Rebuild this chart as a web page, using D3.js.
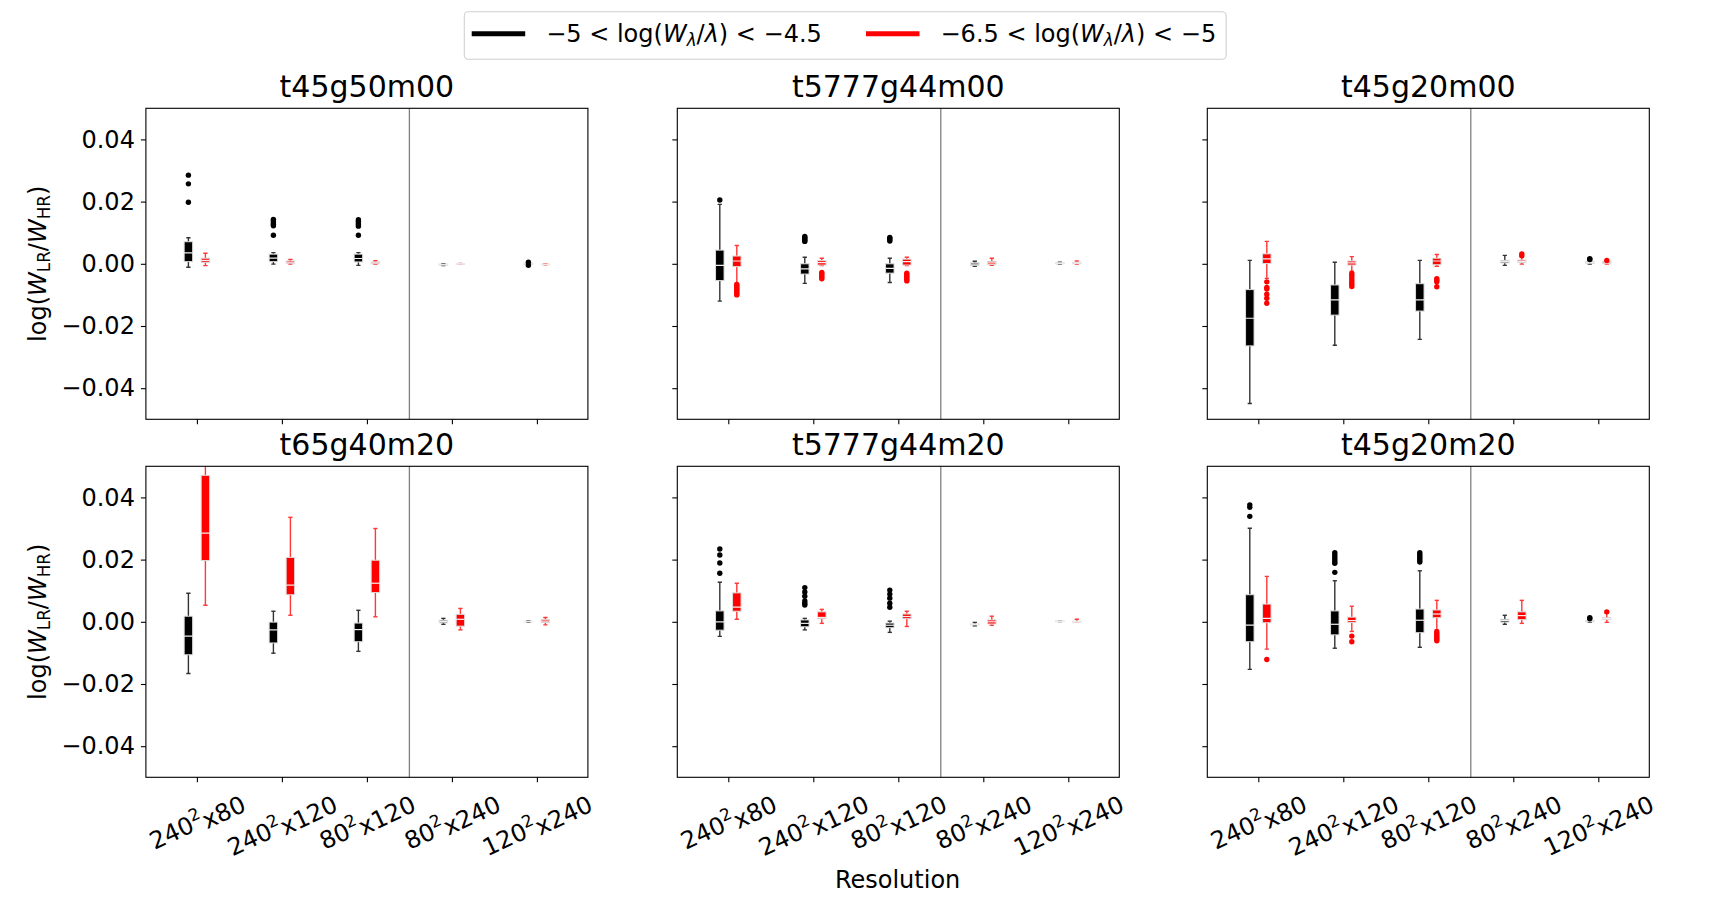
<!DOCTYPE html>
<html>
<head>
<meta charset="utf-8">
<script src="https://cdn.jsdelivr.net/npm/d3@7"></script>
<style>
  body { margin: 0; background: #fff; }
  text { font-family: "DejaVu Sans", sans-serif; fill: #000; }
</style>
</head>
<body>
<svg id="chart" width="1718" height="898"></svg>
<script>
// ---- data ----
var titles = ["t45g50m00", "t5777g44m00", "t45g20m00", "t65g40m20", "t5777g44m20", "t45g20m20"];
var resBase = ["240", "240", "80", "80", "120"];
var resDepth = ["80", "120", "120", "240", "240"];
var yTicks = [-0.04, -0.02, 0, 0.02, 0.04];

// box stats per resolution: [whisker low, q1, median, q3, whisker high]
var t45g50m00Black = [[-0.0011, 0.0007, 0.0035, 0.0071, 0.0084], [-0.0001, 0.0007, 0.0018, 0.0031, 0.0036], [-0.0005, 0.0006, 0.0017, 0.0031, 0.0036], [-0.0006, -0.0004, -0.0003, -0.0001, 0.0000], [-0.0004, -0.0002, 0.0000, 0.0002, 0.0004]];
var t45g50m00Red = [[-0.0006, 0.0005, 0.0011, 0.0018, 0.0034], [-0.0001, 0.0002, 0.0005, 0.0009, 0.0014], [-0.0002, 0.0000, 0.0003, 0.0006, 0.0010], [-0.0001, -0.00005, 0, 0.00005, 0.0001], [-0.0003, -0.0002, -0.00015, -0.0001, 0.0000]];
var t45g50m00BlackOut = [[0.0285, 0.0257, 0.0198], [0.0143, 0.0138, 0.0132, 0.0127, 0.0122, 0.0092], [0.0142, 0.0137, 0.0131, 0.0126, 0.0121, 0.0092], [], [0.0005, -0.0005]];
var t45g50m00RedOut = [[], [], [], [], []];

var t5777g44m00Black = [[-0.0120, -0.0054, -0.0005, 0.0044, 0.0191], [-0.0063, -0.0033, -0.0016, 0.0000, 0.0021], [-0.0060, -0.0030, -0.0015, 0.0000, 0.0018], [-0.0008, -0.0005, -0.0001, 0.0003, 0.0008], [-0.0001, 0.0000, 0.0002, 0.0003, 0.0005]];
var t5777g44m00Red = [[-0.0063, -0.0009, 0.0009, 0.0025, 0.0059], [-0.0006, -0.0004, 0.0004, 0.0010, 0.0018], [-0.0006, -0.0004, 0.0007, 0.0015, 0.0021], [-0.0005, -0.0002, 0.0003, 0.0008, 0.0018], [-0.0001, 0.0001, 0.0003, 0.0005, 0.0009]];
var t5777g44m00BlackOut = [[0.0205], [0.0072, 0.0076, 0.0080, 0.0084, 0.0088], [0.0073, 0.0077, 0.0081, 0.0085], [], []];
var t5777g44m00RedOut = [[-0.0066, -0.0071, -0.0076, -0.0081, -0.0086, -0.0091, -0.0096, -0.0100], [-0.0028, -0.0033, -0.0038, -0.0043, -0.0048], [-0.0030, -0.0035, -0.0040, -0.0045, -0.0050, -0.0055], [], []];

var t45g20m00Black = [[-0.0449, -0.0264, -0.0175, -0.0083, 0.0011], [-0.0262, -0.0165, -0.0116, -0.0068, 0.0005], [-0.0243, -0.0152, -0.0116, -0.0064, 0.0011], [-0.0005, 0.0003, 0.0007, 0.0011, 0.0027], [-0.0001, 0.0002, 0.0004, 0.0007, 0.0009]];
var t45g20m00Red = [[-0.0047, 0.0001, 0.0016, 0.0032, 0.0072], [-0.0024, -0.0004, 0.0003, 0.0009, 0.0023], [-0.0008, -0.0003, 0.0009, 0.0018, 0.0030], [-0.0001, 0.0004, 0.0008, 0.0012, 0.0022], [-0.0001, 0.0002, 0.0005, 0.0008, 0.0009]];
var t45g20m00BlackOut = [[], [], [], [], [0.0014, 0.0016]];
var t45g20m00RedOut = [[-0.0058, -0.0076, -0.0081, -0.0098, -0.0111, -0.0127], [-0.0031, -0.0038, -0.0045, -0.0052, -0.0059, -0.0066, -0.0073], [-0.0048, -0.0053, -0.0058, -0.0074], [0.0026, 0.0032], [0.0011]];

var t65g40m20Black = [[-0.0166, -0.0106, -0.0046, 0.0018, 0.0092], [-0.0101, -0.0068, -0.0026, -0.0001, 0.0034], [-0.0095, -0.0064, -0.0025, -0.0004, 0.0037], [-0.0008, -0.0003, 0.0001, 0.0005, 0.0011], [-0.0001, 0.0000, 0.0001, 0.0002, 0.0003]];
var t65g40m20Red = [[0.0053, 0.0197, 0.0285, 0.0471, 0.0530], [0.0021, 0.0087, 0.0118, 0.0207, 0.0336], [0.0016, 0.0094, 0.0124, 0.0198, 0.0300], [-0.0026, -0.0014, 0.0008, 0.0024, 0.0043], [-0.0010, -0.0002, 0.0002, 0.0007, 0.0014]];
var t65g40m20BlackOut = [[], [], [], [], []];
var t65g40m20RedOut = [[], [], [], [], []];

var t5777g44m20Black = [[-0.0047, -0.0027, 0.0000, 0.0035, 0.0127], [-0.0026, -0.0016, -0.0005, 0.0006, 0.0011], [-0.0034, -0.0019, -0.0011, -0.0004, 0.0002], [-0.0013, -0.0010, -0.0008, -0.0007, -0.0002], [0.0001, 0.00015, 0.0002, 0.00025, 0.0003]];
var t5777g44m20Red = [[0.0008, 0.0034, 0.0047, 0.0093, 0.0124], [-0.0005, 0.0010, 0.0014, 0.0032, 0.0040], [-0.0015, 0.0010, 0.0017, 0.0025, 0.0034], [-0.0011, -0.0007, 0.0000, 0.0006, 0.0018], [-0.0001, -0.0001, 0.0000, 0.0002, 0.0008]];
var t5777g44m20BlackOut = [[0.0156, 0.0189, 0.0215, 0.0234], [0.0054, 0.0060, 0.0067, 0.0082, 0.0096, 0.0110], [0.0047, 0.0060, 0.0076, 0.0089, 0.0102], [], []];
var t5777g44m20RedOut = [[], [], [], [], []];

var t45g20m20Black = [[-0.0153, -0.0064, -0.0011, 0.0087, 0.0301], [-0.0085, -0.0042, -0.0008, 0.0035, 0.0132], [-0.0082, -0.0035, 0.0005, 0.0041, 0.0164], [-0.0008, -0.0001, 0.0004, 0.0008, 0.0021], [-0.0002, 0.0000, 0.0002, 0.0004, 0.0006]];
var t45g20m20Red = [[-0.0088, -0.0003, 0.0011, 0.0057, 0.0146], [-0.0031, -0.0002, 0.0004, 0.0015, 0.0050], [-0.0026, 0.0013, 0.0025, 0.0038, 0.0069], [-0.0005, 0.0007, 0.0020, 0.0032, 0.0069], [-0.0002, 0.0008, 0.0010, 0.0013, 0.0027]];
var t45g20m20BlackOut = [[0.0339, 0.0368, 0.0376], [0.0159, 0.0188, 0.0194, 0.0201, 0.0208, 0.0215, 0.0222], [0.0192, 0.0198, 0.0204, 0.0210, 0.0216, 0.0222], [], [0.0010, 0.0013]];
var t45g20m20RedOut = [[-0.0121], [-0.0046, -0.0064], [-0.0032, -0.0038, -0.0044, -0.0050, -0.0056, -0.0061], [], [0.0032]];

var blackStats = [t45g50m00Black, t5777g44m00Black, t45g20m00Black, t65g40m20Black, t5777g44m20Black, t45g20m20Black];
var redStats = [t45g50m00Red, t5777g44m00Red, t45g20m00Red, t65g40m20Red, t5777g44m20Red, t45g20m20Red];
var blackOut = [t45g50m00BlackOut, t5777g44m00BlackOut, t45g20m00BlackOut, t65g40m20BlackOut, t5777g44m20BlackOut, t45g20m20BlackOut];
var redOut = [t45g50m00RedOut, t5777g44m00RedOut, t45g20m00RedOut, t65g40m20RedOut, t5777g44m20RedOut, t45g20m20RedOut];

// ---- layout ----
var colLeft = [145.9, 677.3, 1207.3],
    rowTop = [108.3, 466.3],
    panelW = 442,
    panelH = 311,
    fs = 24;

var svg = d3.select("#chart");

var series = [
  {stats: blackStats, out: blackOut, fill: "#000000", whisker: "#333333", offset: -0.1},
  {stats: redStats, out: redOut, fill: "#ff0000", whisker: "#ff3838", offset: 0.1}
];

titles.forEach(function(title, i) {
  var col = i % 3, row = Math.floor(i / 3);
  var left = colLeft[col], top = rowTop[row];

  var x = d3.scaleLinear().domain([0.4, 5.6]).range([left, left + panelW]);
  var y = d3.scaleLinear().domain([-0.05, 0.05]).range([top + panelH, top]);
  var boxW = x(0.1) - x(0);

  // clip for the data
  svg.append("clipPath")
      .attr("id", "clip" + i)
    .append("rect")
      .attr("x", left).attr("y", top)
      .attr("width", panelW).attr("height", panelH);

  // Add Y axis
  var yAxis = svg.append("g")
    .attr("transform", "translate(" + left + ",0)")
    .call(d3.axisLeft(y).tickValues(yTicks).tickSize(5).tickPadding(6)
      .tickFormat(col == 0 ? d3.format(".2f") : ""));
  yAxis.select(".domain").remove();
  yAxis.selectAll("line").attr("stroke", "#000").attr("stroke-width", 1.1);
  yAxis.selectAll("text").style("font-size", fs + "px").attr("font-family", null);

  // Add X axis (labels drawn separately, bottom row only)
  var xAxis = svg.append("g")
    .attr("transform", "translate(0," + (top + panelH) + ")")
    .call(d3.axisBottom(x).tickValues([1, 2, 3, 4, 5]).tickSize(5).tickFormat(""));
  xAxis.select(".domain").remove();
  xAxis.selectAll("line").attr("stroke", "#000").attr("stroke-width", 1.1);

  // separator between the two resolution groups
  svg.append("line")
    .attr("x1", x(3.5)).attr("x2", x(3.5))
    .attr("y1", top).attr("y2", top + panelH)
    .attr("stroke", "#808080")
    .attr("stroke-width", 1.3);

  var g = svg.append("g").attr("clip-path", "url(#clip" + i + ")");

  series.forEach(function(s) {
    var stats = s.stats[i];
    stats.forEach(function(d, k) {
      var cx = x(k + 1 + s.offset);
      // whiskers
      g.append("line")
        .attr("x1", cx).attr("x2", cx)
        .attr("y1", y(d[0])).attr("y2", y(d[1]))
        .attr("stroke", s.whisker).attr("stroke-width", 1.4);
      g.append("line")
        .attr("x1", cx).attr("x2", cx)
        .attr("y1", y(d[3])).attr("y2", y(d[4]))
        .attr("stroke", s.whisker).attr("stroke-width", 1.4);
      // caps
      [d[0], d[4]].forEach(function(v) {
        g.append("line")
          .attr("x1", cx - boxW / 4).attr("x2", cx + boxW / 4)
          .attr("y1", y(v)).attr("y2", y(v))
          .attr("stroke", s.whisker).attr("stroke-width", 1.4);
      });
      // box
      g.append("rect")
        .attr("x", cx - boxW / 2)
        .attr("y", y(d[3]))
        .attr("width", boxW)
        .attr("height", Math.max(y(d[1]) - y(d[3]), 0.5))
        .attr("fill", s.fill)
        .attr("stroke", "#dcdcdc")
        .attr("stroke-width", 1);
      // median
      g.append("line")
        .attr("x1", cx - boxW / 2).attr("x2", cx + boxW / 2)
        .attr("y1", y(d[2])).attr("y2", y(d[2]))
        .attr("stroke", "#f0f0f0").attr("stroke-width", 1.2);
      // outliers
      g.selectAll(null)
        .data(s.out[i][k])
        .enter().append("circle")
          .attr("cx", cx)
          .attr("cy", function(v) { return y(v); })
          .attr("r", 2.7)
          .attr("fill", s.fill);
    });
  });

  // frame
  svg.append("rect")
    .attr("x", left).attr("y", top)
    .attr("width", panelW).attr("height", panelH)
    .attr("fill", "none")
    .attr("stroke", "#000")
    .attr("stroke-width", 1.1);

  // Add panel title
  svg.append("text")
    .attr("x", left + panelW / 2)
    .attr("y", top - 11)
    .attr("text-anchor", "middle")
    .style("font-size", "30px")
    .text(title);

  // Add x tick labels
  if (row == 1) {
    resBase.forEach(function(b, k) {
      var cx = x(k + 1);
      var t = svg.append("text")
        .attr("text-anchor", "middle")
        .attr("dominant-baseline", "central")
        .style("font-size", fs + "px");
      t.append("tspan").text(b);
      t.append("tspan").attr("dy", "-0.45em").style("font-size", (fs * 0.7) + "px").text("2");
      t.append("tspan").attr("dy", (fs * 0.45) + "px").text("x" + resDepth[k]);
      var w = t.node().getComputedTextLength();
      var a = 25 * Math.PI / 180;
      var hh = w * Math.sin(a) + fs * 0.9 * Math.cos(a);
      var cy = top + panelH + 13 + hh / 2;
      t.attr("x", cx).attr("y", cy)
        .attr("transform", "rotate(-25," + cx + "," + cy + ")");
    });
  }

  // Add Y axis label
  if (col == 0) {
    var cy = top + panelH / 2;
    var yl = svg.append("text")
      .attr("transform", "translate(38," + cy + ") rotate(-90)")
      .attr("text-anchor", "middle")
      .attr("dy", "0.35em")
      .style("font-size", fs + "px");
    yl.append("tspan").text("log(");
    yl.append("tspan").style("font-style", "italic").text("W");
    yl.append("tspan").attr("baseline-shift", "-22%").style("font-size", (fs * 0.7) + "px").text("LR");
    yl.append("tspan").text("/");
    yl.append("tspan").style("font-style", "italic").text("W");
    yl.append("tspan").attr("baseline-shift", "-22%").style("font-size", (fs * 0.7) + "px").text("HR");
    yl.append("tspan").text(")");
  }
});

// Add X axis label
svg.append("text")
  .attr("x", 897.6)
  .attr("y", 888)
  .attr("text-anchor", "middle")
  .style("font-size", fs + "px")
  .text("Resolution");

// ---- legend ----
var legend = svg.append("g");
var legendBox = legend.append("rect")
  .attr("x", 464.3).attr("y", 11.7)
  .attr("height", 47.6)
  .attr("rx", 4)
  .attr("fill", "#fff")
  .attr("stroke", "#d0d0d0")
  .attr("stroke-width", 1.1);

var legendItems = [
  {color: "#000000", x: 471.7, lo: "\u22125", hi: "\u22124.5"},
  {color: "#ff0000", x: 866, lo: "\u22126.5", hi: "\u22125"}
];
var legendEnd = 0;
legendItems.forEach(function(d) {
  legend.append("line")
    .attr("x1", d.x).attr("x2", d.x + 53.5)
    .attr("y1", 33.7).attr("y2", 33.7)
    .attr("stroke", d.color)
    .attr("stroke-width", 5);
  var t = legend.append("text")
    .attr("x", d.x + 74.5)
    .attr("y", 42.3)
    .style("font-size", fs + "px");
  t.append("tspan").text(d.lo + " < log(");
  t.append("tspan").style("font-style", "italic").text("W");
  t.append("tspan").attr("baseline-shift", "-22%").style("font-size", (fs * 0.7) + "px").style("font-style", "italic").text("\u03bb");
  t.append("tspan").text("/");
  t.append("tspan").style("font-style", "italic").text("\u03bb");
  t.append("tspan").text(") < " + d.hi);
  legendEnd = d.x + 74.5 + t.node().getComputedTextLength();
});
legendBox.attr("width", legendEnd + 10 - 464.3);
</script>
</body>
</html>
